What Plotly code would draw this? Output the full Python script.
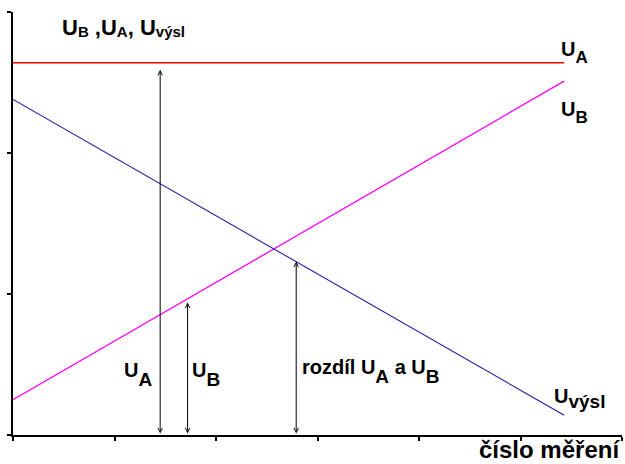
import plotly.graph_objects as go

# ---- data ----
x_ends = [0.0, 5.43]          # measurement number range of the three lines
u_a = [2.64, 2.64]            # U_A (constant)
u_b = [0.25, 2.51]            # U_B (rising)
u_vysl = [2.38, 0.14]         # U_výsl (falling)

arrow_x = [1.45, 1.72, 2.79]          # positions of the vertical double arrows
arrow_top = [2.59, 0.94, 1.23]        # upper ends of the arrows

x_ticks = [0, 1, 2, 3, 4, 5, 6]
y_ticks = [0, 1, 2, 3]

FONT = "Liberation Sans, Arial, sans-serif"


def sub(t, size, shift):
    return f"<span style='font-size:{size}px;baseline-shift:-{shift}px'>{t}</span>"


fig = go.Figure()
fig.add_trace(go.Scatter(x=x_ends, y=u_a, mode="lines",
                         line=dict(color="#ff0000", width=1.3), hoverinfo="skip"))
fig.add_trace(go.Scatter(x=x_ends, y=u_b, mode="lines",
                         line=dict(color="#ff00ff", width=1.3), hoverinfo="skip"))
fig.add_trace(go.Scatter(x=x_ends, y=u_vysl, mode="lines",
                         line=dict(color="#2020a0", width=1.1), hoverinfo="skip"))

annotations = []
for xa, yt in zip(arrow_x, arrow_top):
    annotations.append(dict(x=xa, y=yt, ax=xa, ay=0, xref="x", yref="y",
                            axref="x", ayref="y", text="", showarrow=True,
                            arrowhead=5, startarrowhead=5, arrowside="end+start",
                            arrowsize=0.9, startarrowsize=0.9,
                            arrowwidth=1, arrowcolor="#000000"))

texts = [
    (0.46, 2.89, 22, "U" + sub("B", 15, 2) + " ,U" + sub("A", 15, 2) + ", U" + sub("výsl", 15, 2)),
    (5.38, 2.71, 20, "U" + sub("A", 17, 7)),
    (5.38, 2.29, 20, "U" + sub("B", 17, 7)),
    (1.07, 0.43, 20, "U" + sub("A", 19, 9)),
    (1.74, 0.43, 20, "U" + sub("B", 19, 9)),
    (2.83, 0.45, 20, "rozdíl U" + sub("A", 19, 9) + " a U" + sub("B", 19, 9)),
    (5.31, 0.26, 20, "U" + sub("výsl", 19, 5)),
]
for x, y, s, t in texts:
    annotations.append(dict(x=x, y=y, xref="x", yref="y", text=t, showarrow=False,
                            xanchor="left", yanchor="middle",
                            font=dict(family=FONT, size=s, color="#000000", weight="bold")))

annotations.append(dict(x=1.0, y=-0.035, xref="paper", yref="paper",
                        text="číslo měření", showarrow=False,
                        xanchor="right", yanchor="middle",
                        font=dict(family=FONT, size=24, color="#000000", weight="bold")))

fig.update_layout(
    width=625, height=464,
    margin=dict(l=13, r=3, t=12, b=29),
    paper_bgcolor="white", plot_bgcolor="white",
    showlegend=False,
    annotations=annotations,
    xaxis=dict(range=[0, 6], tickvals=x_ticks, showticklabels=False,
               showgrid=False, zeroline=False, showline=True,
               linecolor="#000000", linewidth=1.5,
               ticks="outside", ticklen=4, tickwidth=1.5, tickcolor="#000000",
               fixedrange=True),
    yaxis=dict(range=[0, 3], tickvals=y_ticks, showticklabels=False,
               showgrid=False, zeroline=False, showline=True,
               linecolor="#000000", linewidth=1.5,
               ticks="outside", ticklen=4, tickwidth=1.5, tickcolor="#000000",
               fixedrange=True),
)

fig.write_html("out.html", config={"displayModeBar": False},
               post_script="document.body.style.margin='0px';document.body.style.overflow='hidden';")
